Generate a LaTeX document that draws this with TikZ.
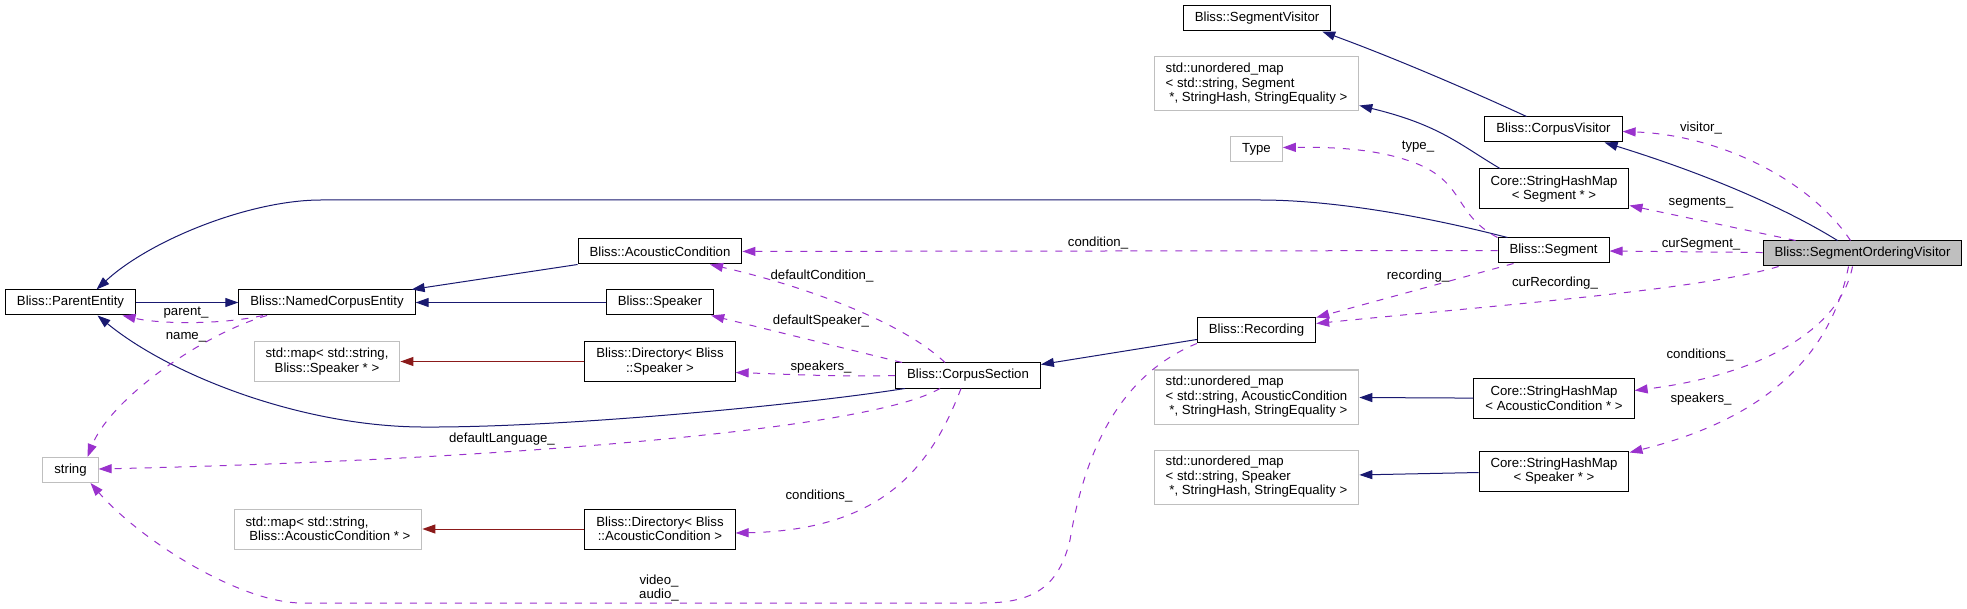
\documentclass[tikz,border=0pt]{standalone}
\usepackage{fontspec}
\setmainfont{Liberation Sans}
\usetikzlibrary{arrows.meta}

\definecolor{edgeblue}{HTML}{191970}
\definecolor{edgepurple}{HTML}{9A32CD}
\definecolor{edgered}{HTML}{8B1A1A}
\definecolor{boxgrey}{HTML}{BFBFBF}
\newcommand{\dxfont}{\fontsize{13.2}{14.5}\selectfont}

\begin{document}
\begin{tikzpicture}[
    x=1pt, y=-1pt,
    >={Triangle[length=13pt, width=9pt]},
    box/.style={rectangle, draw, line width=1pt, fill=white, minimum height=25pt, inner xsep=11.5pt, inner ysep=2pt, align=center, font=\dxfont},
    extbox/.style={box, draw=boxgrey},
    mainbox/.style={box, fill=boxgrey},
    inh/.style={->, draw=edgeblue, line width=1pt},
    tmpl/.style={->, draw=edgered, line width=1pt},
    use/.style={->, draw=edgepurple, line width=1pt, dash pattern=on 7pt off 8pt},
    lbl/.style={font=\dxfont, inner sep=0pt, align=center}
  ]
    \fill[white] (0,0) rectangle (1967,609);

    \node[box] (pe) at (70.5,302.5) {Bliss::ParentEntity};
    \node[box] (nce) at (327,302.5) {Bliss::NamedCorpusEntity};
    \node[extbox, minimum height=40pt] (mapspk) at (327,361.5) {std::map< std::string,\\Bliss::Speaker * >};
    \node[extbox, minimum height=40pt, align=left] (mapac) at (328,529) {std::map< std::string,\\\hspace*{.28em}Bliss::AcousticCondition * >};
    \node[extbox] (str) at (70.5,470) {string};
    \node[box] (ac) at (660,251.5) {Bliss::AcousticCondition};
    \node[box] (spk) at (660,302.5) {Bliss::Speaker};
    \node[box, minimum height=40pt] (dirspk) at (660,361.5) {Bliss::Directory< Bliss\\::Speaker >};
    \node[box, minimum height=40pt] (dirac) at (660,529) {Bliss::Directory< Bliss\\::AcousticCondition >};
    \node[box] (cs) at (968,375.5) {Bliss::CorpusSection};
    \node[box] (segvis) at (1257,18.5) {Bliss::SegmentVisitor};
    \node[extbox, minimum height=54pt, align=left] (umapseg) at (1256.5,84) {std::unordered\_map\\< std::string, Segment\\\hspace*{.28em}*, StringHash, StringEquality >};
    \node[extbox] (typ) at (1256.5,149.5) {Type};
    \node[box] (rec) at (1256.5,330.5) {Bliss::Recording};
    \node[extbox, minimum height=54pt, align=left] (umapac) at (1256.5,397) {std::unordered\_map\\< std::string, AcousticCondition\\\hspace*{.28em}*, StringHash, StringEquality >};
    \node[extbox, minimum height=54pt, align=left] (umapspk) at (1256.5,477) {std::unordered\_map\\< std::string, Speaker\\\hspace*{.28em}*, StringHash, StringEquality >};
    \node[box] (cvis) at (1553.5,129.5) {Bliss::CorpusVisitor};
    \node[box, minimum height=40pt] (shmseg) at (1554,189) {Core::StringHashMap\\< Segment * >};
    \node[box] (seg) at (1553.5,250.5) {Bliss::Segment};
    \node[box, minimum height=40pt] (shmac) at (1554,398.5) {Core::StringHashMap\\< AcousticCondition * >};
    \node[box, minimum height=40pt] (shmspk) at (1554,471) {Core::StringHashMap\\< Speaker * >};
    \node[mainbox] (sov) at (1862.5,253.5) {Bliss::SegmentOrderingVisitor};

    % inheritance
    \draw[inh] (pe) -- (nce);
    \draw[inh] (ac.south west) -- ([xshift=-4pt]nce.north east);
    \draw[inh] (spk) -- (nce);
    \draw[inh] ([xshift=-46pt]seg.north) .. controls (1420,215) and (1330,200) .. (1260,200) -- (321,200) .. controls (250,200) and (150,240) .. ([xshift=26pt]pe.north);
    \draw[inh] ([xshift=-63pt]cs.south) .. controls (800,405) and (560,428) .. (421,427) .. controls (300,426) and (170,375) .. ([xshift=27pt]pe.south);
    \draw[inh] ([yshift=-9pt]rec.west) -- ([yshift=-2pt]cs.north east);
    \draw[inh] ([xshift=-27pt]cvis.north) .. controls (1480,95) and (1400,60) .. ([xshift=-9pt]segvis.south east);
    \draw[inh] ([xshift=-54pt]shmseg.north) .. controls (1460,145) and (1440,125) .. ([yshift=6pt]umapseg.south east);
    \draw[inh] ([xshift=-25pt]sov.north) .. controls (1780,205) and (1700,172) .. ([xshift=-18pt]cvis.south east);
    \draw[inh] (shmac) -- (umapac);
    \draw[inh] (shmspk) -- (umapspk);

    % template instances
    \draw[tmpl] (dirspk) -- (mapspk);
    \draw[tmpl] (dirac) -- (mapac);

    % usage relations, labels lifted off the lines
    \draw[use] ([xshift=-64pt]nce.south) .. controls (220,325) and (160,324) .. ([xshift=52pt]pe.south) node[lbl] (l-parent) at (186,313) {parent\_};
    \draw[use] ([xshift=-60pt]nce.south) .. controls (200,335) and (110,400) .. ([xshift=17pt]str.north) node[lbl] (l-name) at (186,337) {name\_};
    \draw[use] (seg) -- (ac) node[lbl] (l-cond) at (1098,243) {condition\_};
    \draw[use] ([xshift=-23pt]cs.north) .. controls (900,320) and (800,285) .. ([xshift=50pt]ac.south) node[lbl] (l-defcond) at (822,276) {defaultCondition\_};
    \draw[use] ([xshift=-66pt]cs.north) -- ([xshift=-3pt]spk.south east) node[lbl] (l-defspk) at (821,321) {defaultSpeaker\_};
    \draw[use] (cs.west) .. controls (840,377) and (780,374) .. ([yshift=-11pt]dirspk.east) node[lbl] (l-spk) at (821,367) {speakers\_};
    \draw[use] ([xshift=-28pt]cs.south) .. controls (870,430) and (500,460) .. ([yshift=1pt]str.east) node[lbl] (l-lang) at (502,439) {defaultLanguage\_};
    \draw[use] ([xshift=-7pt]cs.south) .. controls (930,470) and (880,530) .. ([yshift=-4pt]dirac.east) node[lbl] (l-conds) at (819,496) {conditions\_};
    \draw[use] (rec.south west) .. controls (1120,375) and (1085,450) .. (1070,540) .. controls (1058,590) and (1030,603) .. (982,603) -- (302,603) .. controls (240,603) and (140,540) .. ([xshift=20pt]str.south) node[lbl] (l-media) at (659,588) {video\_\\audio\_};
    \draw[use] (seg.north west) .. controls (1455,215) and (1465,185) .. (1420,165) .. controls (1380,148) and (1330,147) .. ([yshift=2pt]typ.east) node[lbl] (l-type) at (1418,147) {type\_};
    \draw[use] ([xshift=-40pt]seg.south) -- (rec.north east) node[lbl] (l-rec) at (1418,276) {recording\_};
    \draw[use] ([xshift=16pt]sov.south west) .. controls (1700,290) and (1500,305) .. ([yshift=7pt]rec.east) node[lbl] (l-currec) at (1555,283) {curRecording\_};
    \draw[use] ([xshift=-12pt]sov.north) .. controls (1810,180) and (1720,135) .. ([yshift=-2pt]cvis.east) node[lbl] (l-visitor) at (1701,128) {visitor\_};
    \draw[use] ([xshift=33pt]sov.north west) -- ([yshift=4pt]shmseg.south east) node[lbl] (l-segs) at (1701,203) {segments\_};
    \draw[use] (sov) -- (seg) node[lbl] (l-curseg) at (1701,244) {curSegment\_};
    \draw[use] ([xshift=-10pt]sov.south) .. controls (1840,330) and (1760,375) .. ([yshift=8pt]shmac.east) node[lbl] (l-conds2) at (1700,355) {conditions\_};
    \draw[use] ([xshift=-14pt]sov.south) .. controls (1830,360) and (1760,420) .. ([yshift=-2pt]shmspk.north east) node[lbl] (l-spk2) at (1701,399) {speakers\_};
\end{tikzpicture}
\end{document}
